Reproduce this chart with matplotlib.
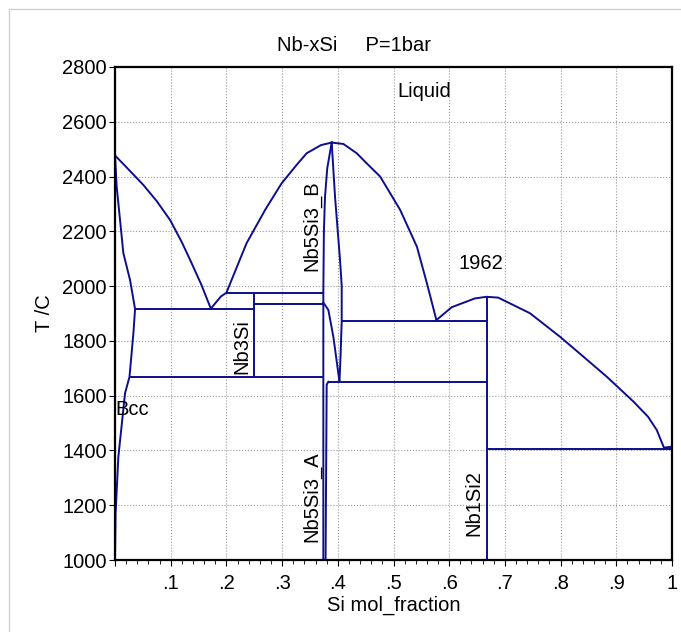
import matplotlib.pyplot as plt
from matplotlib.patches import Rectangle
from matplotlib.ticker import MultipleLocator, FixedLocator, FixedFormatter

plt.rcParams['font.family'] = ['Liberation Sans', 'DejaVu Sans']

# liquidus branches
liq_nb_x = [0.0, 0.02, 0.051, 0.075, 0.099, 0.12, 0.135, 0.155, 0.172]
liq_nb_t = [2477, 2435, 2369, 2310, 2241, 2160, 2095, 2005, 1918]

liq_mid_x = [0.172, 0.19, 0.2, 0.236, 0.27, 0.299, 0.325, 0.344, 0.37, 0.389]
liq_mid_t = [1918, 1962, 1976, 2156, 2280, 2375, 2440, 2485, 2515, 2524]

liq_r_x = [0.389, 0.41, 0.434, 0.452, 0.476, 0.512, 0.542, 0.56, 0.577]
liq_r_t = [2524, 2519, 2485, 2448, 2400, 2278, 2144, 2010, 1876]

liq_si_x = [0.577, 0.6045, 0.646, 0.667, 0.688, 0.745, 0.799, 0.844, 0.883, 0.931, 0.957, 0.9725, 0.9856, 1.0]
liq_si_t = [1876, 1923, 1955, 1961, 1958, 1901, 1815, 1737, 1669, 1578, 1523, 1475, 1410, 1414]

# bcc solid solution boundary
bcc_x = [0.0, 0.003, 0.015, 0.027, 0.036, 0.033, 0.026, 0.018, 0.006, 0.001, 0.0]
bcc_t = [2477, 2363, 2120, 2022, 1916, 1828, 1669, 1609, 1377, 1170, 1000]

# Nb5Si3 boundaries
b_left_x = [0.374, 0.374, 0.375, 0.377, 0.381, 0.389]
b_left_t = [1000, 1976, 2200, 2326, 2430, 2524]
b_right_x = [0.389, 0.395, 0.404, 0.407, 0.407, 0.405, 0.403]
b_right_t = [2524, 2326, 2095, 2000, 1873, 1750, 1651]
b_low_x = [0.374, 0.383, 0.392, 0.403]
b_low_t = [1940, 1913, 1815, 1651]
a_right_x = [0.383, 0.380, 0.378]
a_right_t = [1651, 1640, 1000]

# invariant lines: temperature, x start, x end
h_t = [1916, 1669, 1976, 1936, 1651, 1873, 1405]
h_x0 = [0.036, 0.026, 0.2, 0.25, 0.383, 0.407, 0.667]
h_x1 = [0.25, 0.374, 0.374, 0.374, 0.667, 0.667, 1.0]

# compound lines: x, T bottom, T top
v_x = [0.25, 0.667]
v_t0 = [1669, 1000]
v_t1 = [1976, 1961]

col = '#0d0d8f'
lw = 1.4
fs = 14.5

fig = plt.figure(figsize=(6.81, 6.32), dpi=100)
fig.patches.append(Rectangle((9 / 681, -0.1), 1.2, 1.1 - 9 / 632 + 0.0, transform=fig.transFigure,
                             fill=False, edgecolor='#d0d0d0', lw=1))
ax = fig.add_axes([0.1689, 0.1139, 0.8179, 0.7801])

for xs, ts in [(liq_nb_x, liq_nb_t), (liq_mid_x, liq_mid_t), (liq_r_x, liq_r_t),
               (liq_si_x, liq_si_t), (bcc_x, bcc_t), (b_left_x, b_left_t),
               (b_right_x, b_right_t), (b_low_x, b_low_t), (a_right_x, a_right_t)]:
    ax.plot(xs, ts, color=col, lw=lw)

ax.hlines(h_t, h_x0, h_x1, color=col, lw=lw)
ax.vlines(v_x, v_t0, v_t1, color=col, lw=lw)

ax.set_xlim(0, 1)
ax.set_ylim(1000, 2800)
ax.xaxis.set_major_locator(FixedLocator([i / 10 for i in range(11)]))
ax.xaxis.set_major_formatter(FixedFormatter(['', '.1', '.2', '.3', '.4', '.5', '.6', '.7', '.8', '.9', '1']))
ax.xaxis.set_minor_locator(MultipleLocator(0.02))
ax.yaxis.set_major_locator(MultipleLocator(200))
ax.tick_params(labelsize=fs, length=4, width=0.8)
ax.tick_params(axis='x', pad=6)
ax.tick_params(axis='y', pad=2)
ax.tick_params(axis='x', which='minor', length=3, width=0.6)
ax.grid(True, color='#999999', linestyle=':', linewidth=0.8)
for s in ax.spines.values():
    s.set_linewidth(1.6)

ax.text(0.429, 1.025, 'Nb-xSi     P=1bar', transform=ax.transAxes, fontsize=fs,
        ha='center', va='bottom')
ax.set_xlabel('Si mol_fraction', fontsize=fs, labelpad=2)
ax.set_ylabel('T /C', fontsize=fs, labelpad=6)

ax.text(0.555, 2709, 'Liquid', fontsize=fs, ha='center', va='center')
ax.text(0.657, 2084, '1962', fontsize=fs, ha='center', va='center')
ax.text(0.0, 1548, 'Bcc', fontsize=fs, ha='left', va='center')
ax.text(0.227, 1781, 'Nb3Si', fontsize=fs, ha='center', va='center', rotation=90)
ax.text(0.354, 2220, 'Nb5Si3_B', fontsize=fs, ha='center', va='center', rotation=90)
ax.text(0.354, 1230, 'Nb5Si3_A', fontsize=fs, ha='center', va='center', rotation=90)
ax.text(0.644, 1208, 'Nb1Si2', fontsize=fs, ha='center', va='center', rotation=90)

fig.savefig('out.png', dpi=100)
